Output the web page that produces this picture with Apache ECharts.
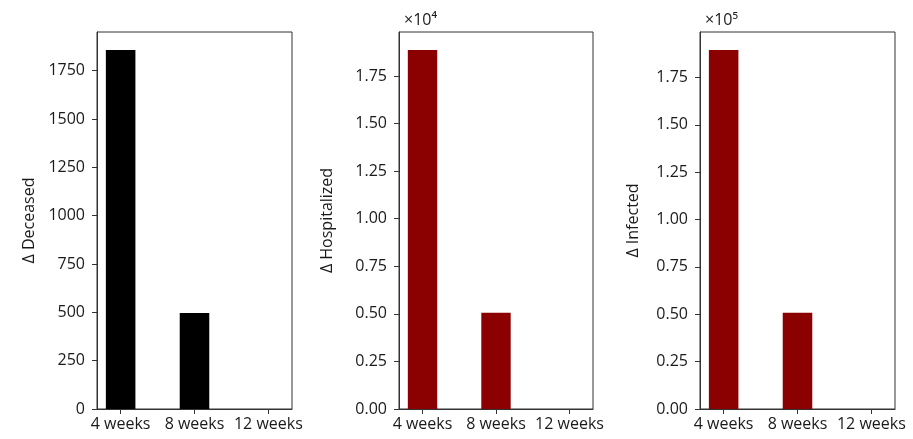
<!DOCTYPE html>
<html>
<head>
<meta charset="utf-8">
<style>
  html, body { margin: 0; padding: 0; background: #fff; }
  #chart { width: 913px; height: 439px; }
</style>
<script src="https://cdn.jsdelivr.net/npm/echarts@6/dist/echarts.min.js"></script>
</head>
<body>
<div id="chart"></div>
<script>
const categories = ['4 weeks', '8 weeks', '12 weeks'];
const deceased = [1857, 497, 0];
const hospitalized = [18870, 5060, 0];
const infected = [189500, 50800, 0];
const deceasedTicks = [0, 250, 500, 750, 1000, 1250, 1500, 1750];
const hospitalizedTicks = [0, 2500, 5000, 7500, 10000, 12500, 15000, 17500];
const infectedTicks = [0, 25000, 50000, 75000, 100000, 125000, 150000, 175000];
const panelNames = ['Δ Deceased', 'Δ Hospitalized', 'Δ Infected'];
const offsetTexts = ['', '×10⁴', '×10⁵'];

const FONT = 'Open Sans';
const TXT = '#1a1a1a';
const AX = '#333';
const grids = [
  { left: 97, top: 32, width: 195, height: 377 },
  { left: 399, top: 32, width: 194, height: 377 },
  { left: 700, top: 32, width: 195, height: 377 }
];
const panels = [
  { data: deceased, ticks: deceasedTicks, color: '#000000', fmt: v => String(v), gap: 60 },
  { data: hospitalized, ticks: hospitalizedTicks, color: '#8b0000', fmt: v => (v / 1e4).toFixed(2), gap: 64 },
  { data: infected, ticks: infectedTicks, color: '#8b0000', fmt: v => (v / 1e5).toFixed(2), gap: 59 }
];
const XMIN = -0.32, XMAX = 2.32;

const option = {
  backgroundColor: '#fff',
  animation: false,
  grid: grids.map(g => Object.assign({ show: true, borderColor: AX, borderWidth: 1, containLabel: false }, g)),
  title: offsetTexts.map((t, i) => ({
    text: t,
    left: grids[i].left,
    top: 7,
    textStyle: { fontFamily: FONT, fontSize: 16, fontWeight: 'normal', color: TXT }
  })),
  xAxis: panels.map((p, i) => ({
    type: 'value',
    gridIndex: i,
    min: XMIN,
    max: XMAX,
    splitLine: { show: false },
    axisLine: { show: true, onZero: false, lineStyle: { color: AX, width: 1 } },
    axisTick: { show: true, length: 5, customValues: [0, 1, 2], lineStyle: { color: AX } },
    axisLabel: {
      customValues: [0, 1, 2],
      formatter: v => categories[Math.round(v)],
      fontFamily: FONT, fontSize: 16, color: TXT, margin: 7
    }
  })),
  yAxis: panels.map((p, i) => ({
    type: 'value',
    gridIndex: i,
    min: 0,
    max: Math.max(...p.data) * 1.05,
    name: panelNames[i],
    nameLocation: 'middle',
    nameGap: p.gap,
    nameTextStyle: { fontFamily: FONT, fontSize: 16, color: TXT },
    splitLine: { show: false },
    axisLine: { show: true, onZero: false, lineStyle: { color: AX, width: 1 } },
    axisTick: { show: true, length: 5, customValues: p.ticks, lineStyle: { color: AX } },
    axisLabel: {
      customValues: p.ticks,
      formatter: p.fmt,
      fontFamily: FONT, fontSize: 16, color: TXT, margin: 12
    }
  })),
  series: panels.map((p, i) => ({
    type: 'bar',
    xAxisIndex: i,
    yAxisIndex: i,
    barWidth: 0.4 * grids[i].width / (XMAX - XMIN),
    itemStyle: { color: p.color },
    data: categories.map((c, k) => [k, p.data[k]])
  }))
};

const chart = echarts.init(document.getElementById('chart'), null, { renderer: 'canvas' });
chart.setOption(option);
</script>
</body>
</html>
